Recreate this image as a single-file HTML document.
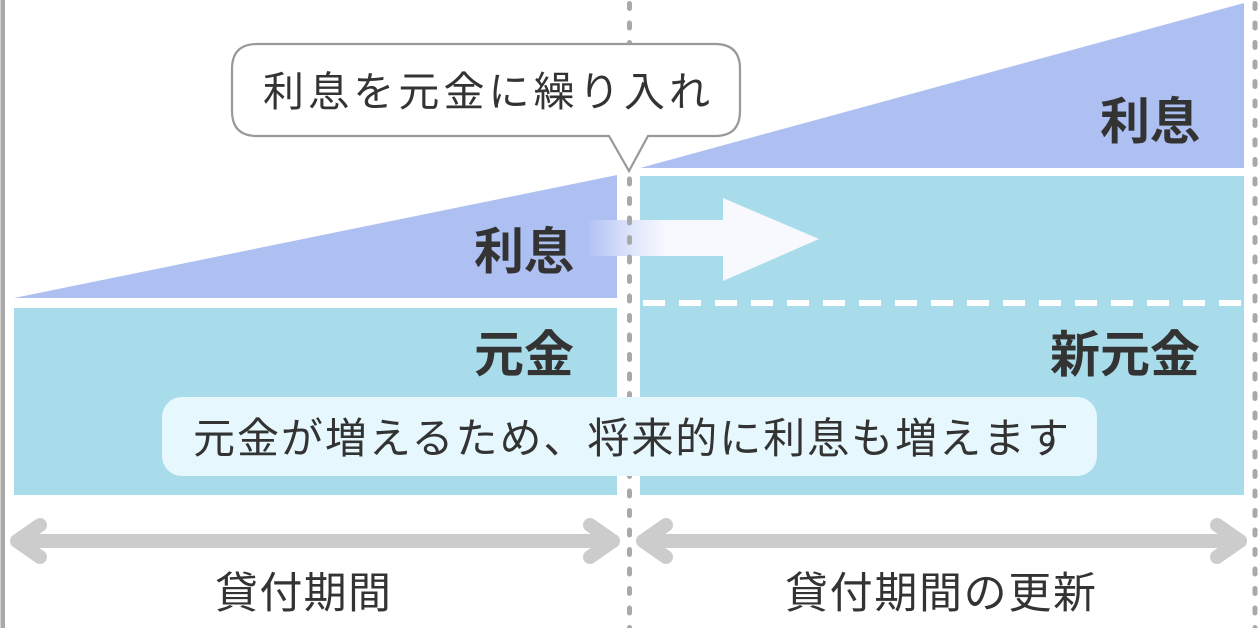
<!DOCTYPE html>
<html>
<head>
<meta charset="utf-8">
<style>
  html, body { margin:0; padding:0; background:#fff; }
  body { width:1259px; height:628px; overflow:hidden; }
  svg { display:block; }
  text { font-family: "Liberation Sans", "Noto Sans CJK JP", sans-serif; fill:#333; }
  .b { font-weight:700; font-size:50px; }
  .n { font-weight:400; }
</style>
</head>
<body>
<svg width="1259" height="628" viewBox="0 0 1259 628" xmlns="http://www.w3.org/2000/svg">
  <defs>
    <linearGradient id="ag" gradientUnits="userSpaceOnUse" x1="588" y1="0" x2="666" y2="0">
      <stop offset="0" stop-color="#b0c1f3"/>
      <stop offset="0.55" stop-color="#dde5fb"/>
      <stop offset="1" stop-color="#f7f9fe"/>
    </linearGradient>
  </defs>

  <!-- left solid line -->
  <rect x="0.5" y="0" width="4.5" height="628" fill="#a9a9a9"/>

  <!-- left side shapes -->
  <polygon points="14,298 617,175 617,298" fill="#aec0f2"/>
  <rect x="14" y="308" width="603" height="187" fill="#a8dcea"/>

  <!-- right side shapes -->
  <polygon points="640,168 1244,3 1244,168" fill="#aec0f2"/>
  <rect x="640" y="176" width="604" height="319" fill="#a8dcea"/>

  <!-- white dashed line in right principal -->
  <line x1="643" y1="303" x2="1241" y2="303" stroke="#ffffff" stroke-width="6" stroke-dasharray="22 14"/>

  <!-- transfer arrow -->
  <polygon points="588,220 723,220 723,198 819,239 723,281 723,256 588,256" fill="url(#ag)"/>

  <!-- vertical dashed lines -->
  <line x1="629.5" y1="0" x2="629.5" y2="628" stroke="#a9a9a9" stroke-width="5" stroke-linecap="round" stroke-dasharray="5 14.5" stroke-dashoffset="-3.5"/>
  <line x1="1255" y1="0" x2="1255" y2="628" stroke="#a9a9a9" stroke-width="5" stroke-linecap="round" stroke-dasharray="5 14.5" stroke-dashoffset="-3.5"/>

  <!-- speech bubble -->
  <path d="M257,44 H715 Q740,44 740,69 V111 Q740,136 715,136 H648 L629,171 L609,136 H257 Q232,136 232,111 V69 Q232,44 257,44 Z"
        fill="#ffffff" stroke="#999999" stroke-width="2.2" stroke-linejoin="miter"/>
  <text class="n" x="263" y="106" font-size="41" textLength="447" lengthAdjust="spacing">利息を元金に繰り入れ</text>

  <!-- bold labels -->
  <text class="b" x="574" y="269" text-anchor="end">利息</text>
  <text class="b" x="574" y="372" text-anchor="end">元金</text>
  <text class="b" x="1200" y="139" text-anchor="end">利息</text>
  <text class="b" x="1200" y="372" text-anchor="end">新元金</text>

  <!-- pale note -->
  <rect x="162" y="397" width="935" height="79" rx="20" ry="20" fill="#e6f8fd"/>
  <text class="n" x="193" y="453" font-size="42" textLength="876" lengthAdjust="spacing">元金が増えるため、将来的に利息も増えます</text>

  <!-- double arrows -->
  <g fill="none" stroke="#cccccc" stroke-width="14" stroke-linecap="round" stroke-linejoin="round">
    <line x1="18" y1="541" x2="613" y2="541"/>
    <polyline points="40,525 17,541 40,557"/>
    <polyline points="590,525 613,541 590,557"/>
    <line x1="644" y1="541" x2="1240" y2="541"/>
    <polyline points="666,525 643,541 666,557"/>
    <polyline points="1217,525 1240,541 1217,557"/>
  </g>

  <!-- period labels -->
  <text class="n" x="215" y="608" font-size="43" textLength="176" lengthAdjust="spacing">貸付期間</text>
  <text class="n" x="785" y="608" font-size="43" textLength="311" lengthAdjust="spacing">貸付期間の更新</text>
</svg>
</body>
</html>
